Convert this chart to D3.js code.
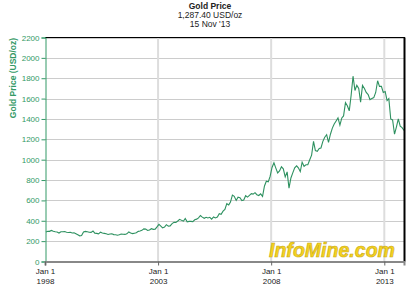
<!DOCTYPE html>
<html>
<head>
<meta charset="utf-8">
<script src="https://cdn.jsdelivr.net/npm/d3@7"></script>
<style>
  body { margin: 0; background: #fff; }
  svg { display: block; font-family: "Liberation Sans", Arial, sans-serif; }
</style>
</head>
<body>
<div id="chart"></div>
<script>
// Monthly gold price (USD/oz), Jan 1998 .. Nov 2013
const startYear = 1998;
const prices = [
  290, 297, 296, 305, 298, 292, 290, 280, 292, 292, 294, 288,
  285, 287, 280, 282, 272, 262, 252, 255, 290, 296, 292, 288,
  286, 300, 278, 276, 272, 288, 280, 276, 272, 266, 270, 272,
  264, 262, 258, 262, 270, 268, 266, 272, 290, 280, 274, 278,
  282, 296, 300, 306, 320, 318, 306, 310, 322, 316, 318, 340,
  365, 348, 330, 338, 362, 348, 350, 372, 384, 384, 398, 414,
  404, 396, 422, 390, 394, 394, 392, 410, 416, 428, 452, 436,
  424, 434, 428, 434, 416, 438, 428, 436, 470, 464, 494, 512,
  568, 556, 584, 652, 640, 600, 632, 626, 598, 604, 646, 632,
  650, 666, 662, 676, 656, 648, 664, 640, 742, 788, 782, 836,
  924, 970, 920, 870, 890, 930, 910, 830, 880, 720, 820, 870,
  920, 940, 920, 884, 975, 935, 950, 950, 1000, 1045, 1180, 1090,
  1083, 1110, 1115, 1180, 1220, 1245, 1170, 1250, 1310, 1350, 1380, 1410,
  1340, 1410, 1430, 1560, 1530, 1480, 1630, 1820, 1680, 1730, 1700, 1565,
  1730, 1700, 1660, 1640, 1590, 1600, 1610, 1660, 1775, 1720, 1720, 1660,
  1670, 1580, 1600, 1400, 1390, 1250, 1320, 1400, 1330, 1315, 1287
];
const yTicks = [0, 200, 400, 600, 800, 1000, 1200, 1400, 1600, 1800, 2000, 2200];
const xTickYears = [1998, 2003, 2008, 2013];
const titleLines = ["Gold Price", "1,287.40 USD/oz", "15 Nov '13"];

const data = prices.map((p, i) => ({
  date: new Date(startYear + Math.floor(i / 12), i % 12, 15),
  value: p
}));
data[data.length - 1].date = new Date(2013, 10, 15);

const width = 415, height = 292;
const plotLeft = 45, plotRight = 404, plotTop = 37.5, plotBottom = 261.5;
const green = "#339966";

const svg = d3.select("#chart").append("svg")
  .attr("width", width)
  .attr("height", height);

const x = d3.scaleTime()
  .domain([new Date(1998, 0, 1), new Date(2013, 10, 15)])
  .range([plotLeft, plotRight]);
const y = d3.scaleLinear().domain([0, 2200]).range([plotBottom, plotTop]);

// horizontal grid
svg.append("g").selectAll("line")
  .data(yTicks.slice(1))
  .enter().append("line")
  .attr("x1", plotLeft).attr("x2", plotRight)
  .attr("y1", d => Math.round(y(d)) + 0.5).attr("y2", d => Math.round(y(d)) + 0.5)
  .attr("stroke", "#cccccc");

// vertical grid
svg.append("g").selectAll("line")
  .data(xTickYears.slice(1))
  .enter().append("line")
  .attr("x1", d => x(new Date(d, 0, 1))).attr("x2", d => x(new Date(d, 0, 1)))
  .attr("y1", plotTop).attr("y2", plotBottom)
  .attr("stroke", "#dddddd")
  .attr("stroke-width", 2);

// watermark
svg.append("text")
  .attr("x", 269).attr("y", 257)
  .attr("textLength", 126)
  .attr("lengthAdjust", "spacingAndGlyphs")
  .style("font-size", "20px")
  .style("font-weight", "bold")
  .style("font-style", "italic")
  .attr("fill", "#f5d320")
  .attr("stroke", "#c9a818")
  .attr("stroke-width", 0.6)
  .text("InfoMine.com");

// price line
const line = d3.line().x(d => x(d.date)).y(d => y(d.value));
svg.append("path")
  .datum(data)
  .attr("d", line)
  .attr("fill", "none")
  .attr("stroke", "#2e9160")
  .attr("stroke-width", 1.1);

// frame: top + right black
svg.append("line").attr("x1", plotLeft).attr("x2", plotRight + 1)
  .attr("y1", plotTop).attr("y2", plotTop).attr("stroke", "#000");
svg.append("line").attr("x1", plotRight + 0.5).attr("x2", plotRight + 0.5)
  .attr("y1", plotTop).attr("y2", plotBottom).attr("stroke", "#000").attr("stroke-width", 2);

// y axis
const yAxis = svg.append("g")
  .attr("transform", `translate(${plotLeft + 0.5},0)`)
  .call(d3.axisLeft(y).tickValues(yTicks).tickFormat(d3.format("d")).tickSize(4).tickPadding(2));
yAxis.select(".domain").attr("stroke", green);
yAxis.selectAll(".tick line").attr("stroke", green);
yAxis.selectAll("text").attr("fill", green)
  .style("font-size", "8px")
  .style("font-family", "Liberation Sans, Arial, sans-serif");

// x axis
const xAxis = svg.append("g")
  .attr("transform", `translate(0,${plotBottom})`)
  .call(d3.axisBottom(x)
    .tickValues(xTickYears.map(d => new Date(d, 0, 1)))
    .tickSize(4)
    .tickFormat(""));
xAxis.select(".domain").attr("stroke", "#888").attr("stroke-width", 2);
xAxis.selectAll(".tick line").attr("stroke", "#666");
xAxis.selectAll(".tick").each(function(d) {
  const t = d3.select(this).append("text")
    .attr("fill", "#222")
    .attr("text-anchor", "middle")
    .style("font-size", "8px")
    .style("font-family", "Liberation Sans, Arial, sans-serif");
  t.append("tspan").attr("x", 0).attr("y", 12).text("Jan 1");
  t.append("tspan").attr("x", 0).attr("y", 22).text(d.getFullYear());
});

// y label
svg.append("text")
  .attr("transform", "translate(16,78) rotate(-90)")
  .attr("text-anchor", "middle")
  .attr("fill", green)
  .style("font-size", "8.5px")
  .style("font-weight", "bold")
  .text("Gold Price (USD/oz)");

// title
svg.append("g").selectAll("text")
  .data(titleLines)
  .enter().append("text")
  .attr("x", 210)
  .attr("y", (d, i) => 9 + i * 9)
  .attr("text-anchor", "middle")
  .attr("fill", "#222")
  .style("font-size", "8.5px")
  .style("font-weight", (d, i) => i === 0 ? "bold" : "normal")
  .text(d => d);
</script>
</body>
</html>
